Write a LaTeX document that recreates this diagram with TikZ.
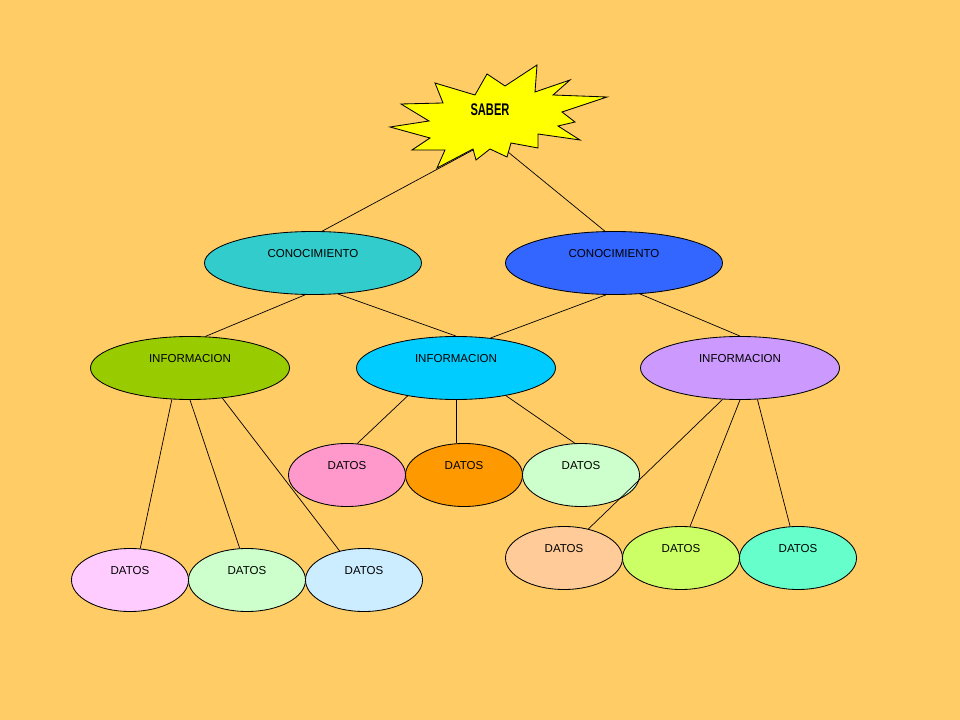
\documentclass[tikz,border=0pt]{standalone}
\usepackage{fontspec}
\setmainfont{Liberation Sans}
\usetikzlibrary{shapes.geometric}

\definecolor{fondo}{HTML}{FFCC66}
\definecolor{estrella}{HTML}{FFFF00}
\definecolor{conA}{HTML}{33CCCC}
\definecolor{conB}{HTML}{3366FF}
\definecolor{infA}{HTML}{99CC00}
\definecolor{infB}{HTML}{00CCFF}
\definecolor{infC}{HTML}{CC99FF}
\definecolor{datA}{HTML}{FFCCFF}
\definecolor{datB}{HTML}{CCFFCC}
\definecolor{datC}{HTML}{CCECFF}
\definecolor{datD}{HTML}{FF99CC}
\definecolor{datE}{HTML}{FF9900}
\definecolor{datF}{HTML}{FFCC99}
\definecolor{datG}{HTML}{CCFF66}
\definecolor{datH}{HTML}{66FFCC}

\tikzset{
    ovalo/.style={ellipse, draw=black, line width=0.6pt, inner sep=0pt,
        minimum height=1.575cm, font=\fontsize{8.2}{9}\selectfont},
    concepto/.style={ovalo, minimum width=5.425cm},
    info/.style={ovalo, minimum width=4.975cm},
    dato/.style={ovalo, minimum width=2.925cm},
    rama/.style={draw=black, line width=0.5pt}
}
\newcommand{\arriba}[1]{\raisebox{4.2pt}[0pt][0pt]{#1}}

\begin{document}
\begin{tikzpicture}[x=0.025cm, y=-0.025cm]
        % Fondo
        \fill[fondo] (0,0) rectangle (960,720);
        \useasboundingbox (0,0) rectangle (960,720);

        % Estrella del saber
        \draw[fill=estrella, line width=0.6pt] (390,127) -- (429,121) -- (401,104) -- (443,103)
            -- (435,83) -- (475,95) -- (487,74) -- (505,86) -- (537,65) -- (535,92)
            -- (570,80) -- (553,95) -- (607,97) -- (562,112) -- (575,122) -- (558,126)
            -- (580,140) -- (538,134) -- (538,148) -- (511,143) -- (507,157) -- (490,149)
            -- (476,160) -- (473,149) -- (437,168) -- (445,150) -- (412,150) -- (430,138)
            -- cycle;
        \node[font=\bfseries\fontsize{12}{12}\selectfont] (saber) at (490,110)
            {\scalebox{0.66}[1]{SABER}};
        \coordinate (s1) at (473,150);
        \coordinate (s2) at (508,152);

        % Conocimiento
        \node[concepto, fill=conA] (c1) at (313,263) {\arriba{CONOCIMIENTO}};
        \node[concepto, fill=conB] (c2) at (614,263) {\arriba{CONOCIMIENTO}};

        % Informacion
        \node[info, fill=infA] (i1) at (190,368) {\arriba{INFORMACION}};
        \node[info, fill=infB] (i2) at (456,368) {\arriba{INFORMACION}};
        \node[info, fill=infC] (i3) at (740,368) {\arriba{INFORMACION}};

        % Datos
        \node[dato, fill=datA] (d1) at (130,580) {\arriba{DATOS}};
        \node[dato, fill=datB] (d2) at (247,580) {\arriba{DATOS}};
        \node[dato, fill=datC] (d3) at (364,580) {\arriba{DATOS}};
        \node[dato, fill=datD] (d4) at (347,475) {\arriba{DATOS}};
        \node[dato, fill=datE] (d5) at (464,475) {\arriba{DATOS}};
        \node[dato, fill=datB] (d6) at (581,475) {\arriba{DATOS}};
        \node[dato, fill=datF] (d7) at (564,558) {\arriba{DATOS}};
        \node[dato, fill=datG] (d8) at (681,558) {\arriba{DATOS}};
        \node[dato, fill=datH] (d9) at (798,558) {\arriba{DATOS}};

        % Ramas
        \draw[rama] (s1) -- (c1.74);
        \draw[rama] (s2) -- (c2.106);
        \draw[rama] (c1.256) -- (i1.64);
        \draw[rama] (c1.309) -- (i2.90);
        \draw[rama] (c2.256) -- (i2.41);
        \draw[rama] (c2.310) -- (i3.90);
        \draw[rama] (i1.240) -- (d1.72);
        \draw[rama] (i1.270) -- (d2.103);
        \draw[rama] (i1.317) -- (d3.130);
        \draw[rama] (i2.210) -- (d4.72);
        \draw[rama] (i2.270) -- (i2.270 |- d5.north);
        \draw[rama] (i2.331) -- (d6.101);
        \draw[rama] (i3.241) -- (d7.50);
        \draw[rama] (i3.270) -- (d8.74);
        \draw[rama] (i3.299) -- (d9.104);
    \end{tikzpicture}
\end{document}
